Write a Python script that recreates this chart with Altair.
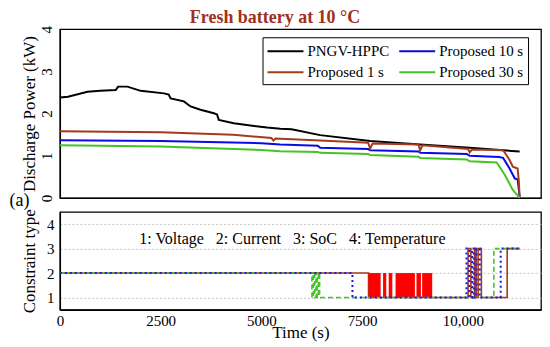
import altair as alt
import pandas as pd

# ---------------- top panel: discharge power (kW) vs time (s) ----------------
series_names = ["PNGV-HPPC", "Proposed 10 s", "Proposed 1 s", "Proposed 30 s"]
series_colors = ["#000000", "#0a0ae6", "#a63a1c", "#45c425"]

hppc_t = [0, 200, 685, 1000, 1386, 1444, 1675, 2005, 2582, 2700, 2748, 3077, 3243,
          3490, 3820, 3900, 3944, 4315, 5140, 5470, 5750, 6460, 7700, 8940, 10170, 11410]
hppc_p = [2.38, 2.40, 2.52, 2.54, 2.56, 2.64, 2.64, 2.54, 2.48, 2.45, 2.36, 2.29, 2.17,
          2.09, 2.01, 1.98, 1.85, 1.77, 1.67, 1.64, 1.63, 1.49, 1.35, 1.27, 1.19, 1.10]

p1_t = [0, 2500, 4300, 5250, 5300, 5350, 6460, 7650, 7700, 7760, 8900, 8940, 9000,
        10130, 10170, 10230, 11000, 11080, 11160, 11240, 11360, 11390, 11410]
p1_p = [1.58, 1.56, 1.50, 1.42, 1.36, 1.41, 1.36, 1.31, 1.17, 1.29, 1.27, 1.13, 1.25,
        1.16, 1.08, 1.15, 1.13, 1.02, 0.90, 0.74, 0.70, 0.40, 0.0]

p10_t = [0, 2500, 5000, 5470, 6400, 6460, 7650, 7700, 8900, 8940, 10100, 10170,
         10900, 11000, 11160, 11290, 11360, 11410]
p10_p = [1.37, 1.35, 1.30, 1.27, 1.24, 1.19, 1.16, 1.13, 1.10, 1.07, 1.04, 1.00,
         0.97, 0.95, 0.70, 0.46, 0.44, 0.02]

p30_t = [0, 2500, 5000, 5470, 6400, 6460, 7650, 7700, 8900, 8940, 10100, 10170,
         10840, 11040, 11240, 11410]
p30_p = [1.25, 1.22, 1.14, 1.11, 1.09, 1.07, 1.04, 1.02, 0.98, 0.95, 0.91, 0.87,
         0.84, 0.55, 0.19, 0.0]

# ---------------- bottom panel: constraint type (step series) ----------------
c1_t = [0, 7660, 10130, 10200, 10290, 10330, 10380, 10460, 11100, 11410]
c1_v = [2, 1, 3, 1, 3, 1, 3, 1, 3, 3]

c10_t = [0, 7260, 10090, 10160, 10230, 10270, 10340, 10420, 10940, 11410]
c10_v = [2, 1, 3, 1, 3, 1, 3, 1, 3, 3]

c30_t = [0, 6255, 6290, 6320, 6355, 6385, 6415, 6445, 10770, 11410]
c30_v = [2, 1, 2, 1, 2, 1, 2, 1, 3, 3]

# rapid current/voltage switching blocks of the 1 s estimate
block_start = [7660, 8020, 8160, 8330, 8850, 8990]
block_end = [7960, 8100, 8250, 8810, 8960, 9240]
block_low = 1
block_high = 2

note_text = ("1: Voltage\u00a0\u00a0\u00a02: Current\u00a0\u00a0\u00a0"
             "3: SoC\u00a0\u00a0\u00a04: Temperature")
note_t = 5770
note_level = 3.4

FONT = "Liberation Serif"
T_MAX = 11940

rows = []
for name, ts, ps in [("PNGV-HPPC", hppc_t, hppc_p), ("Proposed 10 s", p10_t, p10_p),
                     ("Proposed 1 s", p1_t, p1_p), ("Proposed 30 s", p30_t, p30_p)]:
    for t, p in zip(ts, ps):
        rows.append({"series": name, "t": t, "p": p})
top_df = pd.DataFrame(rows)

top = alt.Chart(top_df).mark_line(strokeWidth=2).encode(
    x=alt.X("t:Q", scale=alt.Scale(domain=[0, T_MAX], nice=False),
            axis=alt.Axis(values=[0, 3000, 6000, 9000], labels=False, ticks=False,
                          grid=False, title="(a)", titleX=-51, titleY=3, titleAlign="left",
                          titleBaseline="middle", titleFontSize=18)),
    y=alt.Y("p:Q", scale=alt.Scale(domain=[0, 4], nice=False),
            axis=alt.Axis(values=[0, 1, 2, 3, 4], labelAngle=-90, labelAlign="center",
                          labelBaseline="bottom", labelPadding=5, grid=False, ticks=False,
                          labelOverlap=False, labelFlush=False,
                          title="Discharge Power (kW)", titlePadding=1)),
    color=alt.Color("series:N",
                    scale=alt.Scale(domain=series_names, range=series_colors),
                    legend=alt.Legend(title=None, orient="none", legendX=203, legendY=8,
                                      values=series_names, direction="horizontal",
                                      columns=2, symbolType="M-1,0H3", symbolSize=324,
                                      symbolStrokeWidth=2, labelFontSize=15, labelFont=FONT,
                                      labelColor="black", strokeColor="black",
                                      fillColor="white", padding=4, columnPadding=6,
                                      rowPadding=3, labelOffset=21, labelLimit=300)),
).properties(width=482, height=169)

xscale_b = alt.Scale(domain=[0, T_MAX], nice=False)
yscale_b = alt.Scale(domain=[0.5, 4.5], nice=False)

xb = alt.X("t:Q", scale=xscale_b,
           axis=alt.Axis(values=[0, 2500, 5000, 7500, 10000], ticks=False, grid=False,
                         labelPadding=4, labelOverlap=False, labelFlush=False,
                         labelExpr="datum.value >= 10000 ? format(datum.value, ',') : format(datum.value, 'd')",
                         title="Time (s)", titleFontSize=17, titleY=23, titleBaseline="middle"))
yb = alt.Y("v:Q", scale=yscale_b,
           axis=alt.Axis(values=[1, 2, 3, 4], ticks=False, grid=True, gridDash=[2, 2],
                         gridColor="#c4c4c4", labelPadding=6, labelOverlap=False,
                         labelFlush=False,
                         title="Constraint type", titlePadding=8))

line1 = alt.Chart(pd.DataFrame({"t": c1_t, "v": c1_v})).mark_line(
    interpolate="step-after", color="#a63a1c", strokeWidth=1.6).encode(x=xb, y=yb)
blocks = alt.Chart(pd.DataFrame({"t": block_start, "t2": block_end,
                                 "v": [block_low] * len(block_start),
                                 "v2": [block_high] * len(block_start)})).mark_rect(
    color="#ff0000").encode(x=xb, x2="t2:Q", y=yb, y2="v2:Q")
line30 = alt.Chart(pd.DataFrame({"t": c30_t, "v": c30_v})).mark_line(
    interpolate="step-after", color="#45c425", strokeWidth=1.6,
    strokeDash=[5, 3]).encode(x=xb, y=yb)
line10 = alt.Chart(pd.DataFrame({"t": c10_t, "v": c10_v})).mark_line(
    interpolate="step-after", color="#1a1ae0", strokeWidth=2,
    strokeDash=[2, 3]).encode(x=xb, y=yb)
note = alt.Chart(pd.DataFrame({"t": [note_t], "v": [note_level], "txt": [note_text]})).mark_text(
    font=FONT, fontSize=16, color="black", baseline="middle", align="center").encode(
    x=xb, y=yb, text="txt:N")

bottom = alt.layer(line1, blocks, line30, line10, note).properties(width=482, height=98)

chart = alt.vconcat(top, bottom, spacing=-3).resolve_scale(
    x="independent", y="independent", color="independent"
).properties(
    padding={"top": 0, "left": 0, "right": 0, "bottom": 0},
    title=alt.TitleParams("Fresh battery at 10 °C", fontSize=18, font=FONT, fontWeight="bold",
                          color="#a0301c", offset=-2, anchor="middle")
).configure_view(stroke="black", strokeWidth=1.3).configure_axis(
    labelFont=FONT, labelFontSize=15, labelColor="black", titleFont=FONT, titleFontSize=17,
    titleFontWeight="normal", titleColor="black", domainColor="black", domainWidth=1.3
)

chart.save("out.html", embed_options={"renderer": "svg", "actions": False})
